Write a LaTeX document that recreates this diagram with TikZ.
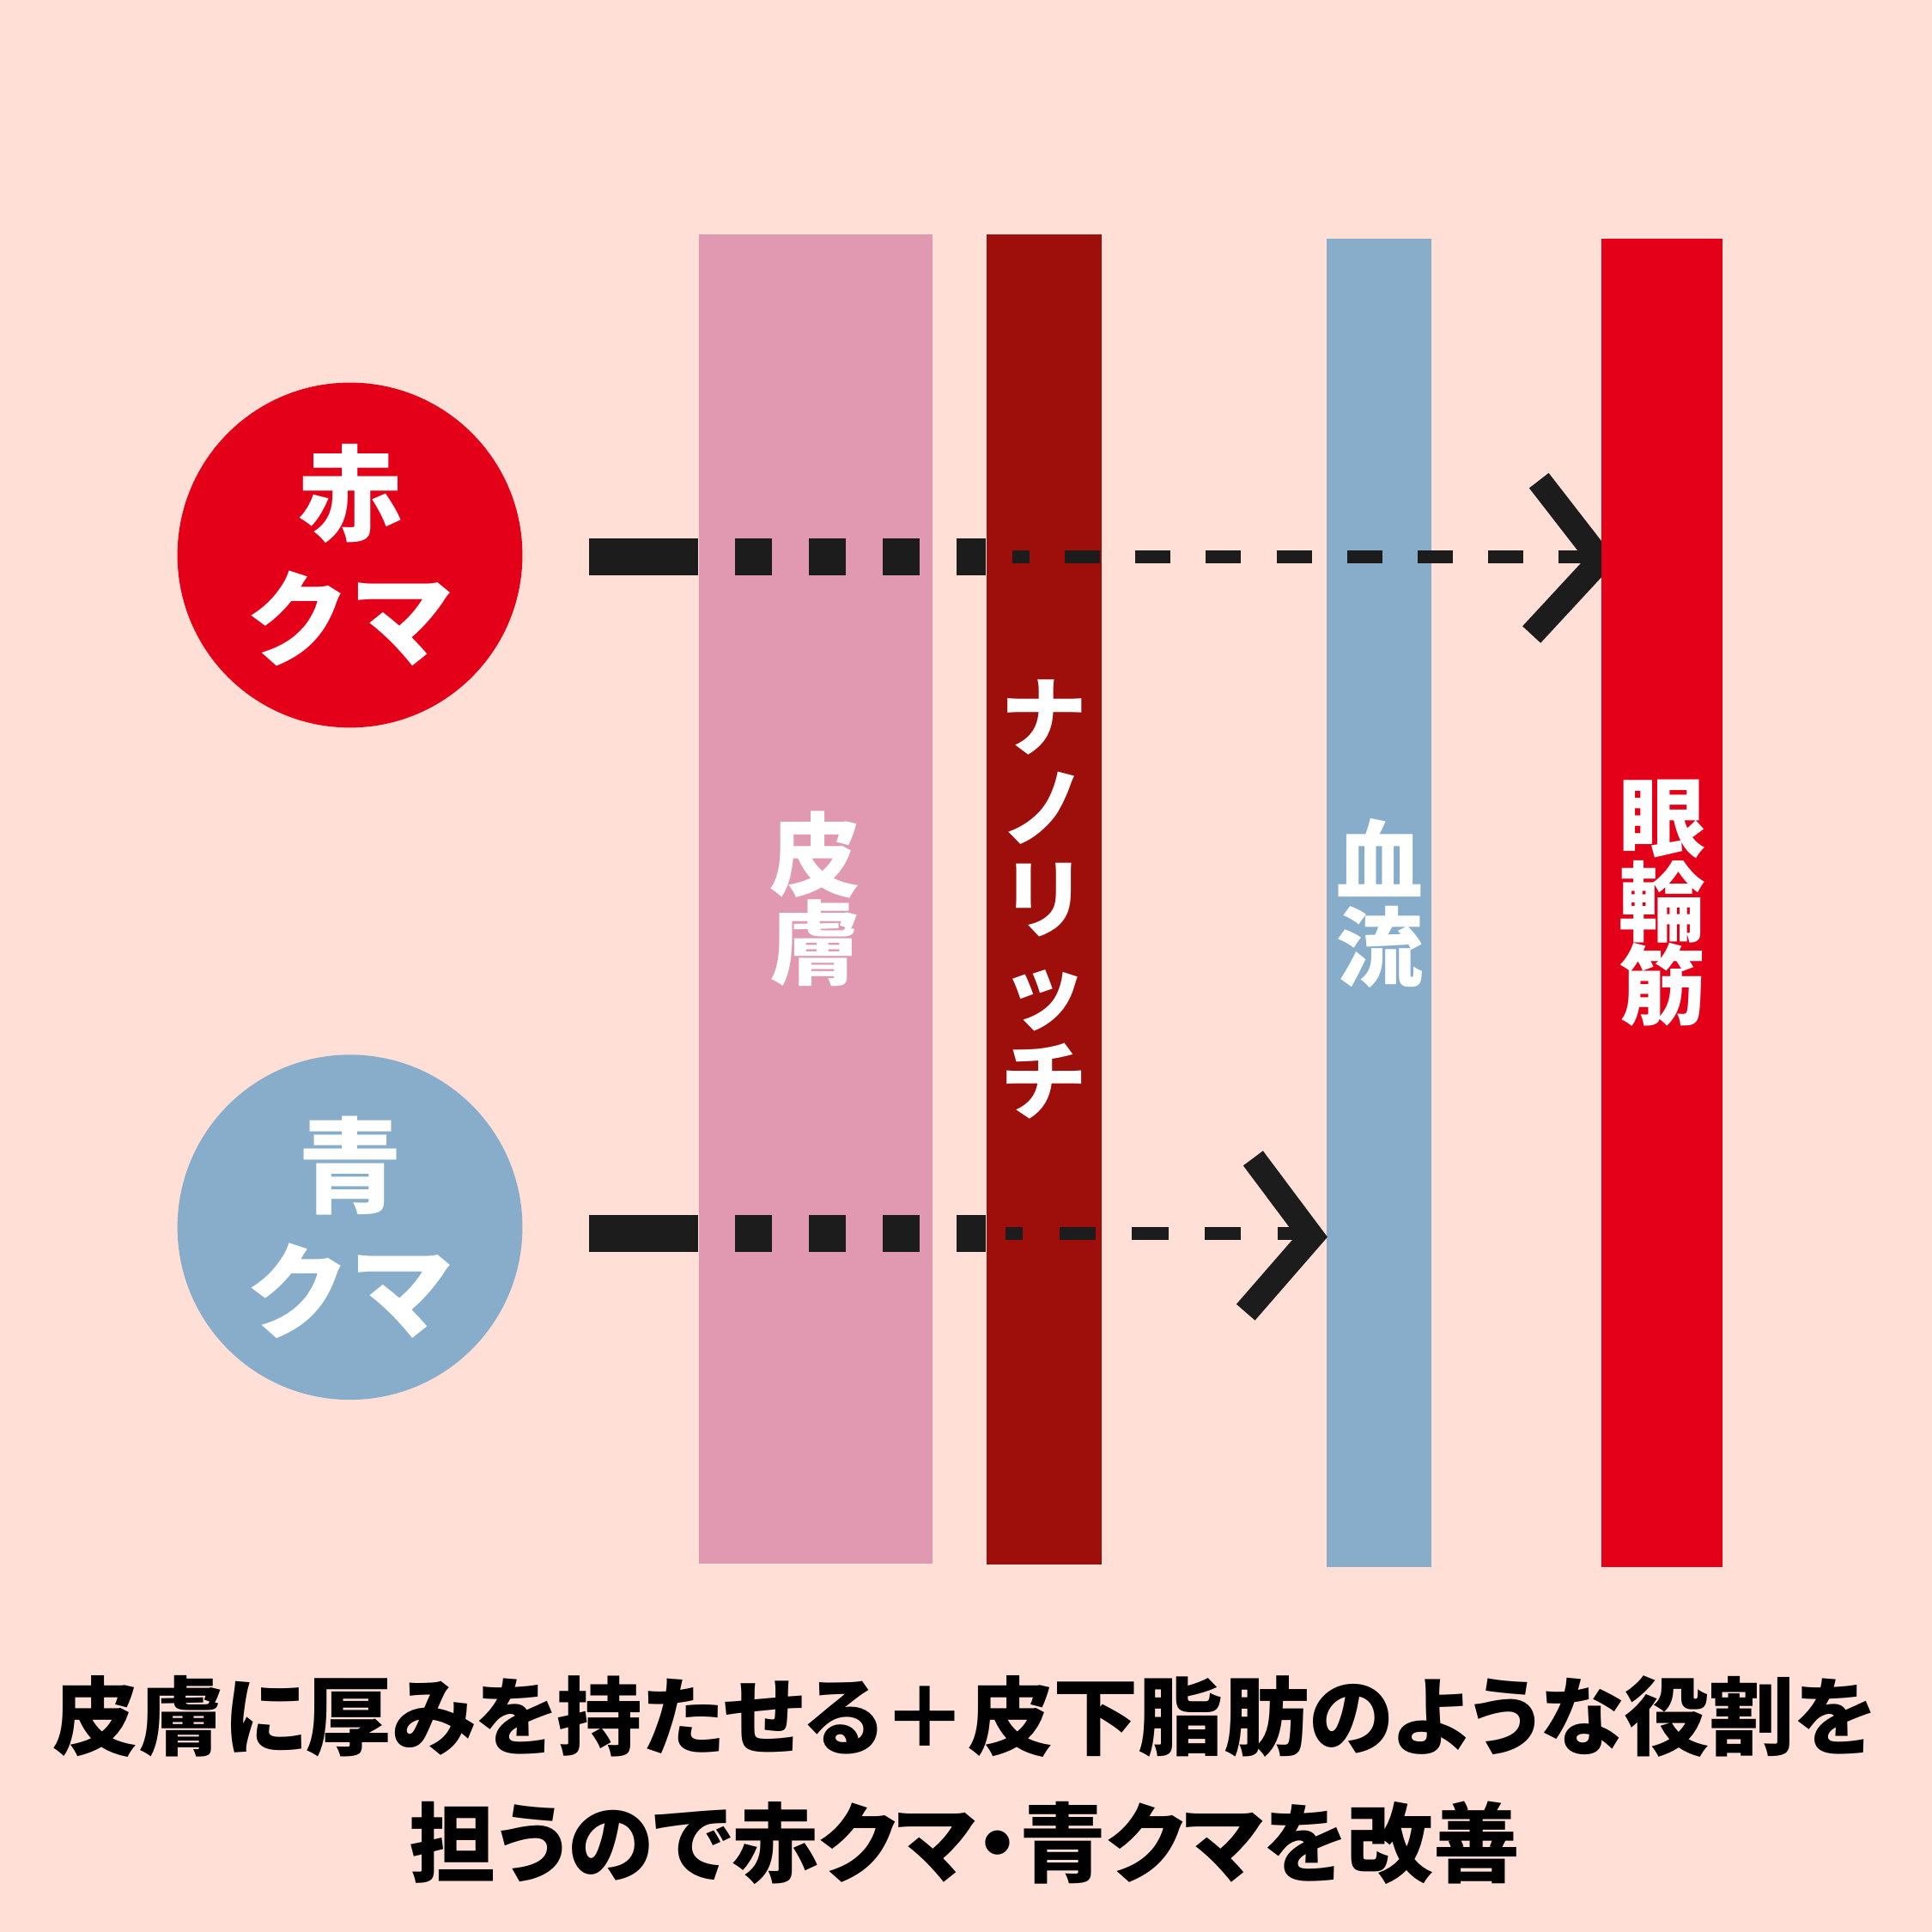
\documentclass[tikz,border=0pt]{standalone}
\usepackage{fontspec}
\usepackage{tikz}
\usetikzlibrary{calc}
\newfontfamily\cjk{Noto Sans CJK JP}
\newfontfamily\cjkheavy{Noto Sans CJK JP Black}
\newfontfamily\cjkheavyp{Noto Sans CJK JP Black}[RawFeature=+palt]
\definecolor{bgPeach}{HTML}{FFDFD6}
\definecolor{skinPink}{HTML}{E199B1}
\definecolor{nanoRed}{HTML}{9E0E0B}
\definecolor{aoBlue}{HTML}{87ADCB}
\definecolor{akaRed}{HTML}{E50019}
\definecolor{ink}{HTML}{1C1C1C}
\tikzset{
  kumaCircle/.style={circle, minimum size=28mm, inner sep=0pt, text=white, align=center,
    font=\cjk\bfseries\fontsize{24}{29}\selectfont},
  layerBar/.style={rectangle, inner sep=0pt, text=white, align=center},
  arrowThick/.style={draw=ink, line width=3mm, line cap=butt},
  arrowThin/.style={draw=ink, line width=1mm, line cap=butt},
  arrowHead/.style={draw=ink, line width=2mm, line cap=butt, line join=miter},
  captionText/.style={text=black, inner sep=0pt, font=\cjkheavyp\fontsize{20}{29}\selectfont}
}

\begin{document}
\begin{tikzpicture}[x=0.1mm, y=-0.1mm]
  \fill[bgPeach] (0,0) rectangle (1568,1568);
  \useasboundingbox (0,0) rectangle (1568,1568);

  % circles
  \node[kumaCircle, fill=akaRed] (aka) at (284,450.5) {赤\\クマ};
  \node[kumaCircle, fill=aoBlue] (ao) at (284,996) {青\\クマ};

  % layers
  \node[layerBar, fill=skinPink, minimum width=19mm, minimum height=107.9mm,
    font=\cjkheavy\fontsize{21}{20.5}\selectfont] (skin) at (662,729.5) {皮\\膚};
  \node[layerBar, fill=nanoRed, minimum width=9.3mm, minimum height=107.9mm,
    font=\cjk\bfseries\fontsize{20}{21}\selectfont] (nano) at (847.5,730) {ナ\\ノ\\リ\\ッ\\チ};

  \coordinate (redStart) at (478,452);
  \coordinate (blueStart) at (478,1001);
  \coordinate (redTip) at (1299,454.5);
  \coordinate (blueTip) at (1064.5,1003.5);

  % thick part
  \draw[arrowThick] (redStart) -- (skin.west |- redStart);
  \draw[arrowThick, dash pattern=on 3mm off 3mm, dash phase=3mm] (skin.west |- redStart) -- (nano.west |- redStart);
  \draw[arrowThick] (blueStart) -- (skin.west |- blueStart);
  \draw[arrowThick, dash pattern=on 3mm off 3mm, dash phase=3mm] (skin.west |- blueStart) -- (nano.west |- blueStart);

  \node[layerBar, fill=aoBlue, minimum width=8.5mm, minimum height=107.8mm,
    font=\cjkheavy\fontsize{20}{20.2}\selectfont] (blood) at (1119.5,733) {血\\流};

  % blue arrow
  \draw[arrowThin, dash pattern=on 2.95mm off 2.95mm, dash phase=1.55mm]
    ($(nano.west |- blueStart)+(16,0)$) -- (blueStart -| blueTip);
  \draw[arrowHead] ($(blueTip)+(-47.5,-63.5)$) -- (blueTip) -- ++(-53.5,61.5);

  % red arrow
  \draw[arrowThin, dash pattern=on 2.86mm off 2.87mm, dash phase=1.45mm]
    ($(nano.west |- redStart)+(21,0)$) -- (redStart -| redTip);
  \draw[arrowHead] ($(redTip)+(-50,-64.5)$) -- (redTip) -- ++(-56,60.5);

  \node[layerBar, fill=akaRed, minimum width=9.8mm, minimum height=107.8mm,
    font=\cjkheavy\fontsize{20}{19.4}\selectfont] (muscle) at (1349,733) {眼\\輪\\筋};

  % caption
  \node[captionText, font=\cjkheavyp\fontsize{19.7}{29}\selectfont] (captionA) at (783,1393)
    {皮膚に厚みを持たせる＋皮下脂肪のような役割を};
  \node[captionText] (captionB) at (783,1496) {担うので赤クマ・青クマを改善};
\end{tikzpicture}
\end{document}
